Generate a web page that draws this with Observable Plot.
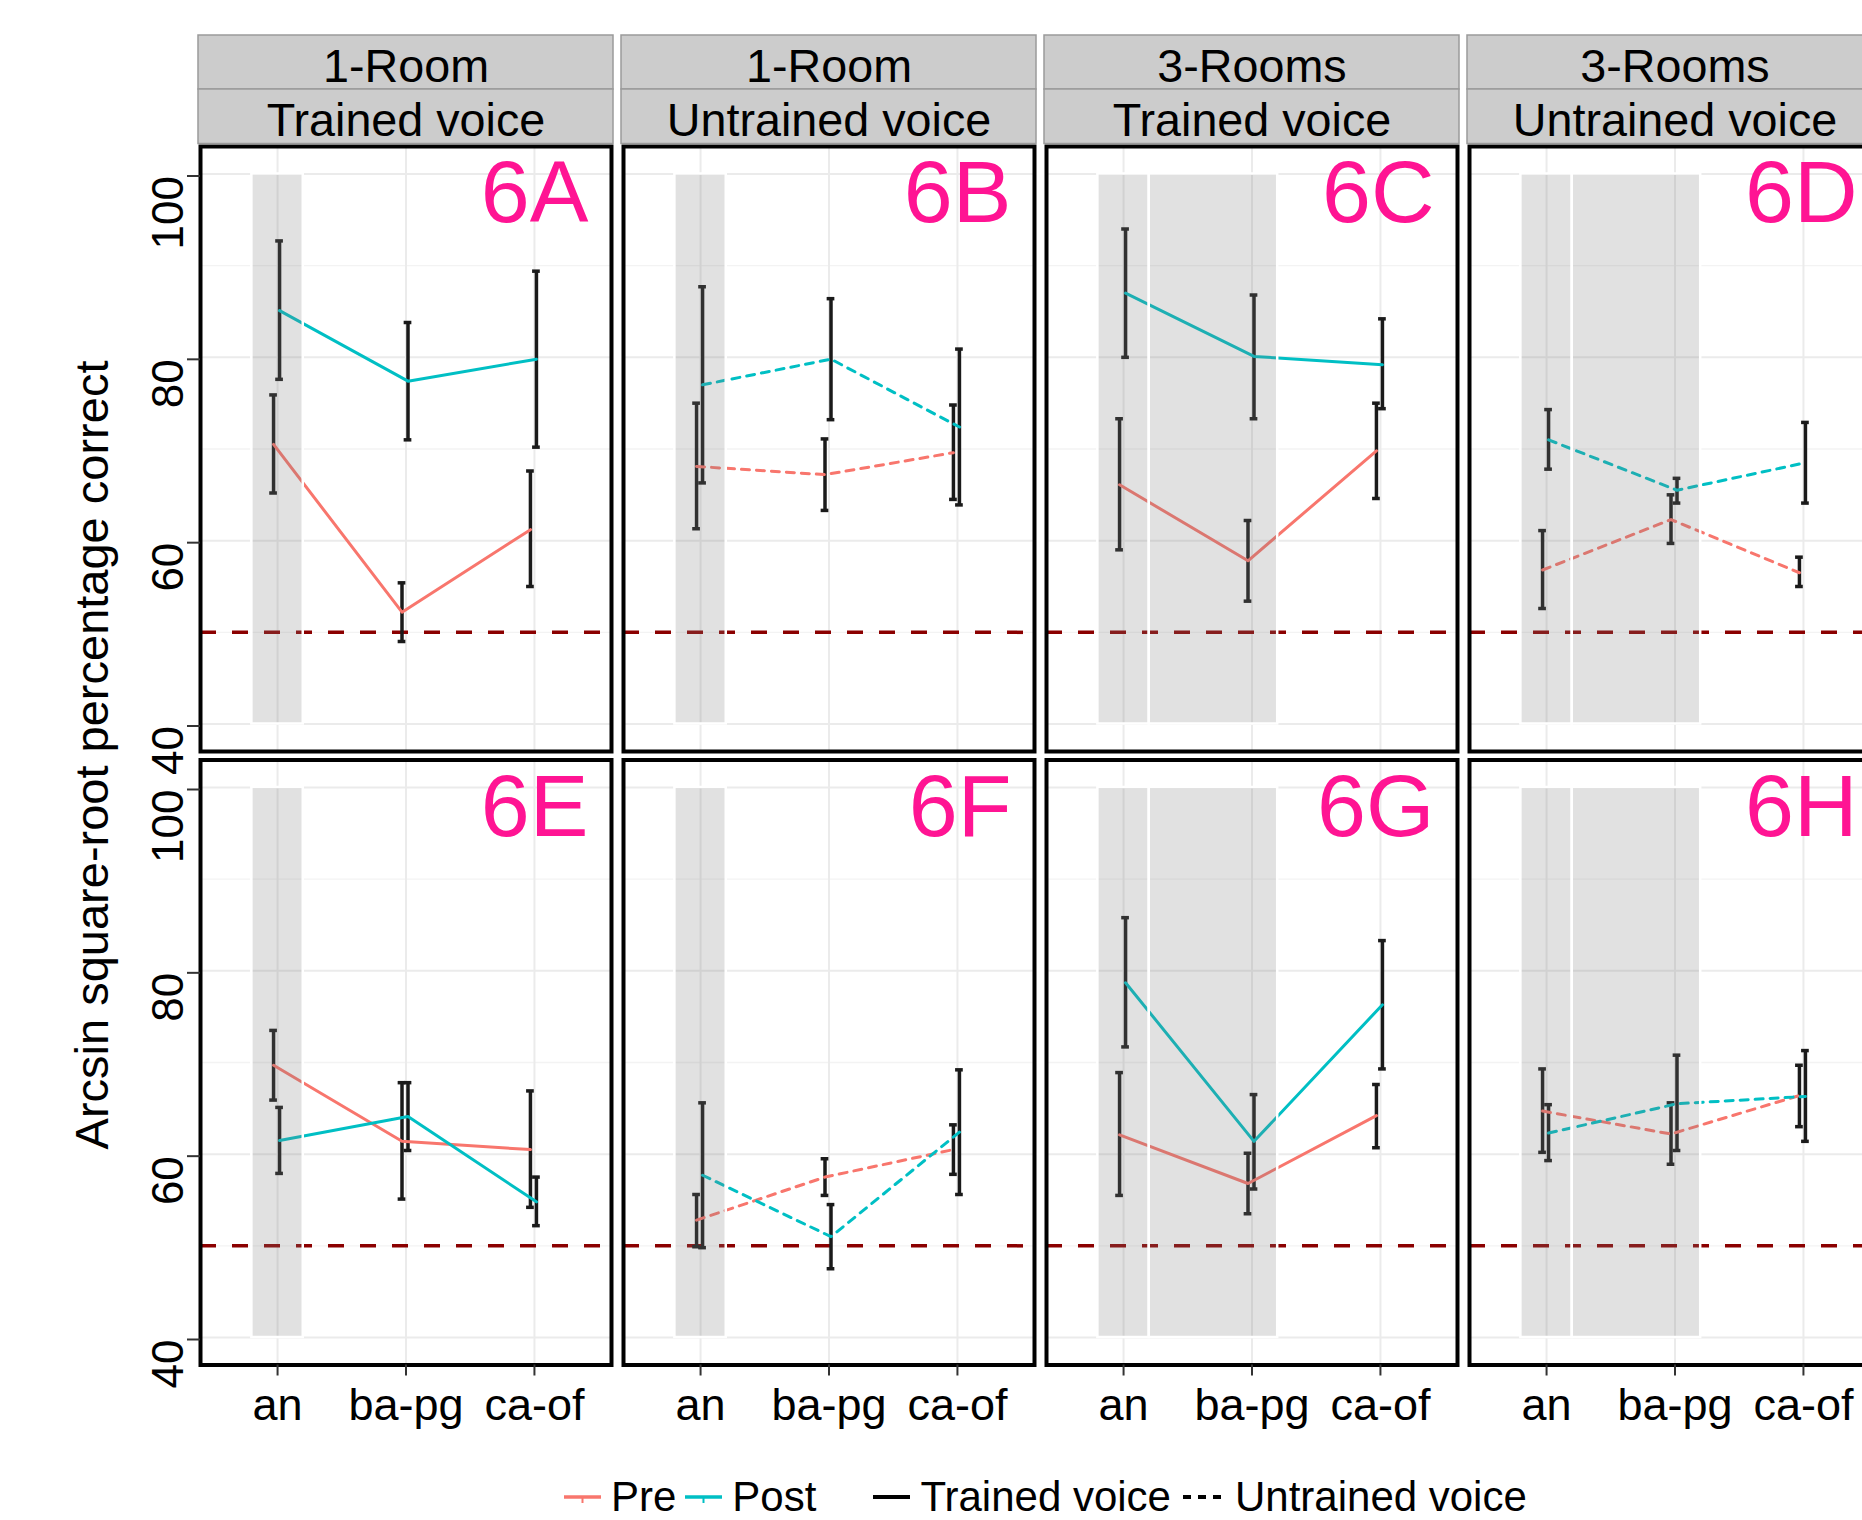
<!DOCTYPE html>
<html>
<head>
<meta charset="utf-8">
<script src="https://cdn.jsdelivr.net/npm/d3@7"></script>
<script src="https://cdn.jsdelivr.net/npm/@observablehq/plot@0.6"></script>
<style>
  html, body { margin: 0; padding: 0; background: #fff; }
  #wrap { position: relative; width: 1862px; height: 1520px; overflow: hidden; background: #fff;
          font-family: "Liberation Sans", Arial, sans-serif; }
  #chart { position: absolute; left: 0; top: 0; width: 1890px; }
  #chart svg { max-width: none !important; }
  #legend { position: absolute; left: 564px; top: 1476px; height: 42px; line-height: 42px;
            display: flex; align-items: center; white-space: nowrap; font-size: 42px; color: #000; }
  #legend .key { display: block; margin-right: 10px; }
  #legend .lab { display: block; }
</style>
</head>
<body>
<div id="wrap"><div id="chart"></div><div id="legend"></div></div>
<script>
// ---------------- data ----------------
const categories = ["an", "ba-pg", "ca-of"];
const rooms = ["1-Room", "1-Room", "3-Rooms", "3-Rooms"];            // facet columns
const voices = ["Trained voice", "Untrained voice", "Trained voice", "Untrained voice"];
const panelLabels = ["6A", "6B", "6C", "6D", "6E", "6F", "6G", "6H"]; // row 1 then row 2
const phases = ["Pre", "Post"];

// per panel (6A..6H), values for an, ba-pg, ca-of
const preMean = [[70.5, 52.2, 61.2], [68.1, 67.2, 69.6], [66.1, 57.8, 69.8], [56.8, 62.3, 56.5],
                 [69.7, 61.4, 60.5], [52.8, 57.5, 60.5], [62.1, 56.8, 64.2], [64.7, 62.2, 66.4]];
const preLow  = [[65.2, 49.0, 55.0], [61.3, 63.3, 64.5], [59.0, 53.4, 64.6], [52.6, 59.7, 55.0],
                 [65.9, 55.1, 54.2], [49.9, 55.5, 57.8], [55.5, 53.5, 60.7], [60.2, 58.9, 63.0]];
const preHigh = [[75.9, 55.4, 67.6], [75.0, 71.1, 74.8], [73.3, 62.2, 75.0], [61.1, 65.0, 58.2],
                 [73.5, 67.8, 66.9], [55.6, 59.5, 63.2], [68.9, 60.1, 67.6], [69.3, 65.6, 69.7]];
const postMean = [[85.1, 77.4, 79.8], [77.0, 79.8, 72.4], [87.0, 80.1, 79.2], [71.0, 65.5, 68.5],
                  [61.5, 64.1, 54.8], [57.7, 51.0, 62.4], [78.7, 61.4, 76.3], [62.3, 65.5, 66.3]];
const postLow  = [[77.6, 71.0, 70.2], [66.3, 73.2, 63.9], [80.0, 73.3, 74.4], [67.8, 64.1, 64.1],
                  [57.9, 60.4, 52.2], [49.8, 47.5, 55.6], [71.7, 56.2, 69.3], [59.3, 60.4, 61.4]];
const postHigh = [[92.7, 83.8, 89.4], [87.7, 86.4, 80.9], [94.0, 86.8, 84.2], [74.3, 66.8, 72.9],
                  [65.1, 67.8, 57.5], [65.6, 54.5, 69.2], [85.8, 66.5, 83.3], [65.4, 70.8, 71.3]];

const chanceLevel = [50];
// shaded category spans (in category positions 1..3), per facet column
const shadeRanges = [[[0.8, 1.2]], [[0.8, 1.2]], [[0.8, 1.2], [1.2, 2.2]], [[0.8, 1.2], [1.2, 2.2]]];
const shadeY = [40, 100];
const yTicks = [40, 60, 80, 100];
const yMinorTicks = [50, 70, 90];
const xDomain = [0.4, 3.6];
const yDomain = [37, 103];

// ---------------- build tables ----------------
const rows = [];
panelLabels.forEach((lab, p) => {
  const col = p % 4, row = Math.floor(p / 4);
  categories.forEach((cat, i) => {
    rows.push({col, row, voice: voices[col], phase: "Pre", x: i + 1,
               mean: preMean[p][i], lo: preLow[p][i], hi: preHigh[p][i]});
    rows.push({col, row, voice: voices[col], phase: "Post", x: i + 1,
               mean: postMean[p][i], lo: postLow[p][i], hi: postHigh[p][i]});
  });
});
const shadeData = [];
[0, 1].forEach(row => rooms.forEach((r, col) =>
  shadeRanges[col].forEach(([a, b]) => shadeData.push({col, row, x1: a, x2: b, y1: shadeY[0], y2: shadeY[1]}))));
const labelData = panelLabels.map((t, p) => ({col: p % 4, row: Math.floor(p / 4), t}));
const stripData = rooms.map((r, col) => ({col, row: 0, room: r, voice: voices[col]}));

// ---------------- styles ----------------
const phaseColor = {Pre: "#F8766D", Post: "#00BFC4"};
const phaseDx = {Pre: -4, Post: 2};
const capHalf = 0.03;
const ebColor = "#1a1a1a";

const marks = [
  Plot.gridY(yMinorTicks, {stroke: "#f3f3f3", strokeOpacity: 1, strokeWidth: 1.3}),
  Plot.gridY(yTicks, {stroke: "#ebebeb", strokeOpacity: 1, strokeWidth: 2}),
  Plot.gridX([1, 2, 3], {stroke: "#ebebeb", strokeOpacity: 1, strokeWidth: 2}),
  Plot.ruleY(chanceLevel, {stroke: "#8B0000", strokeWidth: 3.5, strokeDasharray: "16,16"})
];
for (const ph of phases) {
  const d = rows.filter(r => r.phase === ph);
  const common = {fx: "col", fy: "row", stroke: ebColor, strokeWidth: 3.5, dx: phaseDx[ph]};
  marks.push(Plot.ruleX(d, {...common, x: "x", y1: "lo", y2: "hi"}));
  marks.push(Plot.ruleY(d, {...common, y: "lo", x1: r => r.x - capHalf, x2: r => r.x + capHalf}));
  marks.push(Plot.ruleY(d, {...common, y: "hi", x1: r => r.x - capHalf, x2: r => r.x + capHalf}));
}
for (const ph of phases) {
  for (const dashed of [false, true]) {
    const d = rows.filter(r => r.phase === ph && (r.voice === "Untrained voice") === dashed);
    const opts = {fx: "col", fy: "row", x: "x", y: "mean", stroke: phaseColor[ph], strokeWidth: 3,
                  dx: phaseDx[ph], strokeLinejoin: "round"};
    if (dashed) opts.strokeDasharray = "8,7";
    marks.push(Plot.line(d, opts));
  }
}
marks.push(
  Plot.rect(shadeData, {fx: "col", fy: "row", x1: "x1", x2: "x2", y1: "y1", y2: "y2",
                        fill: "#7f7f7f", fillOpacity: 0.23, stroke: "white", strokeWidth: 2.5}),
  Plot.frame({stroke: "black", strokeWidth: 4}),
  Plot.text(labelData, {fx: "col", fy: "row", text: "t", frameAnchor: "top-right", textAnchor: "end",
                        lineAnchor: "top", dx: -23, dy: 13.5, fontSize: 88, fill: "#FF1493"}),
  Plot.barX(stripData, {fx: "col", fy: "row", x1: () => xDomain[0], x2: () => xDomain[1],
                        fill: "#cccccc", stroke: "#9a9a9a", strokeWidth: 1.5,
                        insetTop: -111, insetBottom: 662, insetLeft: -2, insetRight: -2}),
  Plot.barX(stripData, {fx: "col", fy: "row", x1: () => xDomain[0], x2: () => xDomain[1],
                        fill: "#cccccc", stroke: "#9a9a9a", strokeWidth: 1.5,
                        insetTop: -57, insetBottom: 607.5, insetLeft: -2, insetRight: -2}),
  Plot.text(stripData, {fx: "col", fy: "row", text: "room", frameAnchor: "top", lineAnchor: "bottom",
                        dy: -64.5, fontSize: 46.7, fill: "black"}),
  Plot.text(stripData, {fx: "col", fy: "row", text: "voice", frameAnchor: "top", lineAnchor: "bottom",
                        dy: -11, fontSize: 46.7, fill: "black"}),
  Plot.axisY(yTicks, {tickSize: 13, tickPadding: 5, tickRotate: -90, textAnchor: "end", lineAnchor: "bottom",
                      dy: 2, fontSize: 44, stroke: "#333", strokeWidth: 2, fill: "black", label: null}),
  Plot.axisX([1, 2, 3], {tickSize: 11, tickPadding: 12.5, tickFormat: d => categories[d - 1],
                         fontSize: 45, stroke: "#333", strokeWidth: 2, fill: "black", label: null})
);

const svg = Plot.plot({
  width: 1890, height: 1440,
  marginLeft: 200, marginRight: 10, marginTop: 146, marginBottom: 75.5,
  x: {domain: xDomain},
  y: {domain: yDomain},
  fx: {domain: [0, 1, 2, 3], paddingInner: 0.02837, paddingOuter: 0, axis: null, round: false},
  fy: {domain: [0, 1], paddingInner: 0.01386, paddingOuter: 0, axis: null, round: false},
  style: {fontFamily: '"Liberation Sans", Arial, sans-serif', fontSize: "44px", background: "white",
          color: "black", maxWidth: "none", overflow: "visible"},
  marks
});

// y-axis title
d3.select(svg).append("text")
  .attr("transform", "translate(108,755) rotate(-90)")
  .attr("text-anchor", "middle")
  .attr("font-size", 47)
  .attr("fill", "black")
  .text("Arcsin square-root percentage correct");

document.getElementById("chart").appendChild(svg);

// ---------------- legend ----------------
const legendItems = [
  {kind: "phase", color: phaseColor.Pre, label: "Pre", after: 9},
  {kind: "phase", color: phaseColor.Post, label: "Post", after: 57},
  {kind: "solid", color: "#000", label: "Trained voice", after: 12},
  {kind: "dashed", color: "#000", label: "Untrained voice", after: 0}
];
const legend = d3.select("#legend");
for (const it of legendItems) {
  const w = it.kind === "dashed" ? 42 : 37;
  const k = legend.append("svg").attr("class", "key").attr("width", w).attr("height", 24);
  k.append("line").attr("x1", 0).attr("x2", w).attr("y1", 12).attr("y2", 12)
    .attr("stroke", it.color).attr("stroke-width", it.kind === "phase" ? 3.5 : 4)
    .attr("stroke-dasharray", it.kind === "dashed" ? "8,7" : null);
  if (it.kind === "phase") {
    k.append("line").attr("x1", w / 2).attr("x2", w / 2).attr("y1", 12).attr("y2", 18)
      .attr("stroke", it.color).attr("stroke-width", 2);
  }
  legend.append("span").attr("class", "lab").style("margin-right", it.after + "px").text(it.label);
}
</script>
</body>
</html>
